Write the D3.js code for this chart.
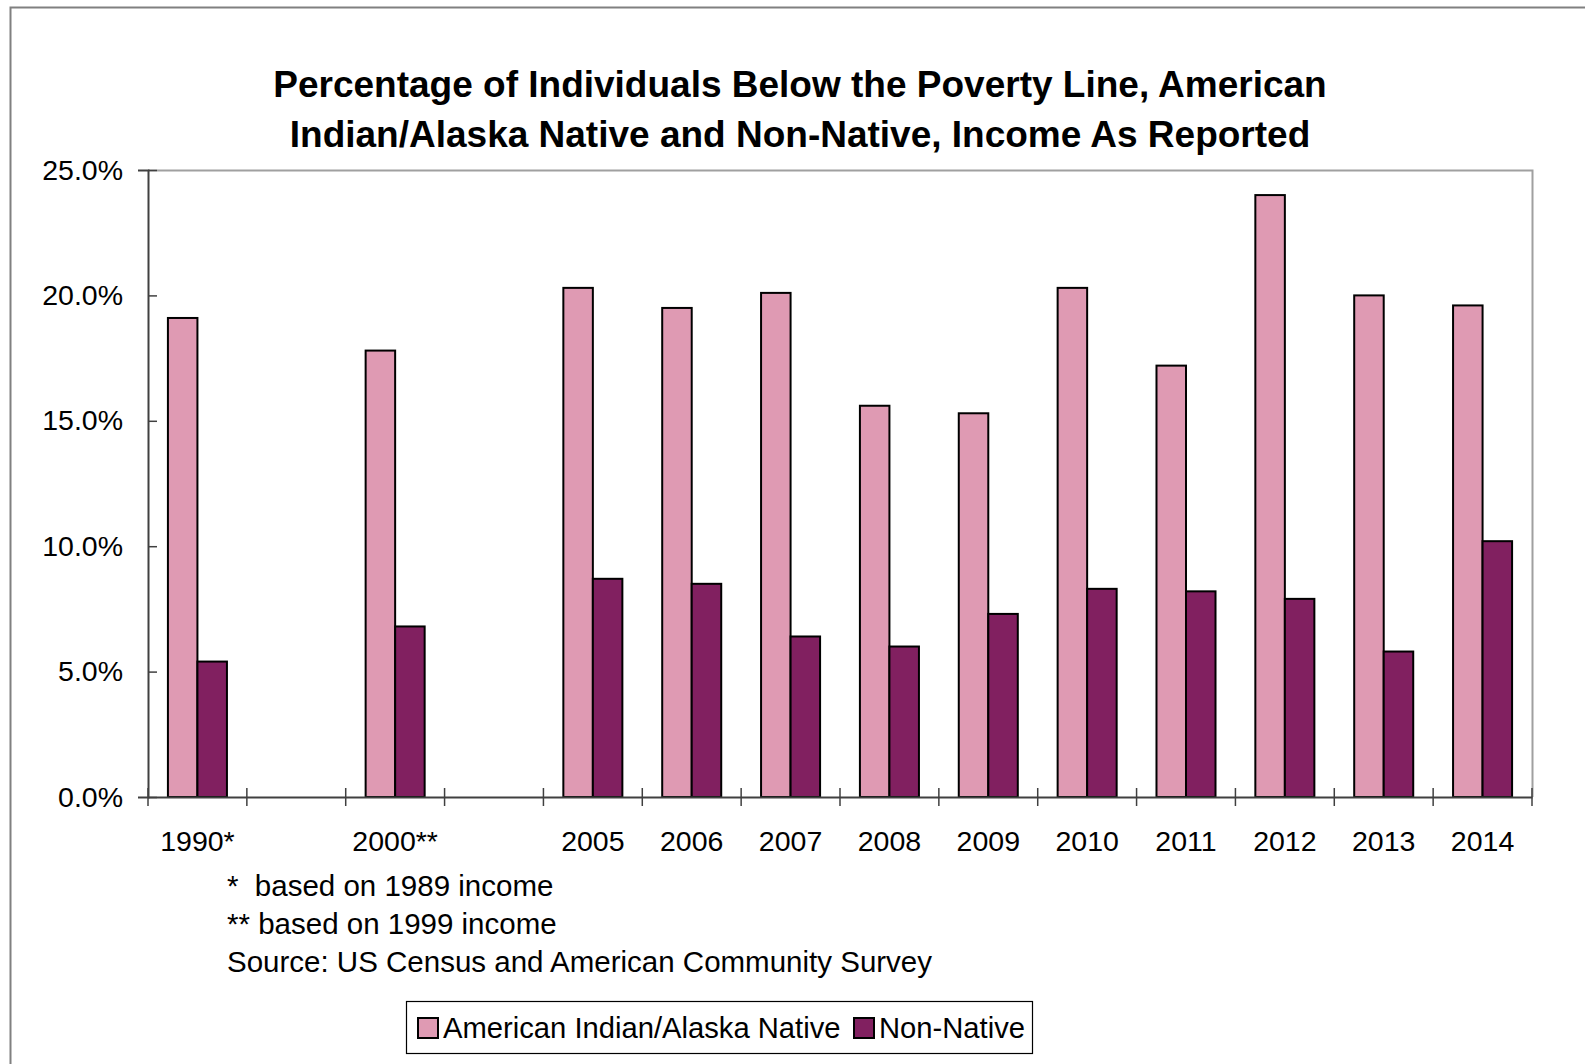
<!doctype html>
<html lang="en">
<head>
  <meta charset="utf-8">
  <title>Poverty Line Chart</title>
  <style>
    body { margin: 0; background: #fff; }
    svg { display: block; font-family: "Liberation Sans", Arial, sans-serif; }
    .title { font-weight: bold; font-size: 37px; fill: #000; }
    .tick text { font-size: 28.5px; fill: #000; }
    .note { font-size: 29.5px; fill: #000; }
    .legend-text { font-size: 29.2px; fill: #000; }
    .bar { stroke: #000; stroke-width: 2; }
  </style>
</head>
<body>
  <div id="chart"></div>

  <script src="https://d3js.org/d3.v7.min.js"></script>
  <script>
    // categories (blank slots are the empty gaps after 1990 and 2000)
    const categories = ["1990*", "", "2000**", "", "2005", "2006", "2007", "2008", "2009", "2010", "2011", "2012", "2013", "2014"];
    const seriesNames = ["American Indian/Alaska Native", "Non-Native"];
    const nativeValues = [19.1, null, 17.8, null, 20.3, 19.5, 20.1, 15.6, 15.3, 20.3, 17.2, 24.0, 20.0, 19.6];
    const nonNativeValues = [5.4, null, 6.8, null, 8.7, 8.5, 6.4, 6.0, 7.3, 8.3, 8.2, 7.9, 5.8, 10.2];
    const yTicks = [0, 5, 10, 15, 20, 25];
    const titleLines = [
      "Percentage of Individuals Below the Poverty Line, American",
      "Indian/Alaska Native and Non-Native, Income As Reported"
    ];
    const notes = ["*  based on 1989 income", "** based on 1999 income", "Source: US Census and American Community Survey"];
    const colors = ["#df9ab3", "#812060"];

    const width = 1585, height = 1064;
    const plot = { left: 148, right: 1532, top: 170, bottom: 797 };

    const svg = d3.select('#chart').append('svg')
      .attr('width', width)
      .attr('height', height);

    // outer chart border (runs off the right and bottom edges)
    svg.append('rect')
      .attr('x', 10.5).attr('y', 7.5)
      .attr('width', width).attr('height', height)
      .attr('fill', 'none')
      .attr('stroke', '#808080')
      .attr('stroke-width', 2);

    svg.selectAll('.title')
      .data(titleLines)
      .join('text')
      .attr('class', 'title')
      .attr('x', 800)
      .attr('y', (d, i) => 97 + i * 50)
      .attr('text-anchor', 'middle')
      .text(d => d);

    const x = d3.scaleBand()
      .domain(d3.range(categories.length))
      .range([plot.left, plot.right])
      .paddingInner(0)
      .paddingOuter(0);

    const xInner = d3.scaleBand()
      .domain([0, 1])
      .range([0, x.bandwidth()])
      .paddingInner(0)
      .paddingOuter(0.675);

    const y = d3.scaleLinear()
      .domain([0, 25])
      .range([plot.bottom, plot.top]);

    // plot area frame (top and right in light gray)
    svg.append('path')
      .attr('d', `M${plot.left},${plot.top + 0.5}H${plot.right + 0.5}V${plot.bottom}`)
      .attr('fill', 'none')
      .attr('stroke', '#a0a0a0')
      .attr('stroke-width', 2);

    const rows = categories.map((c, i) => ({ i, values: [nativeValues[i], nonNativeValues[i]] }));

    const groups = svg.append('g')
      .selectAll('g')
      .data(rows)
      .join('g')
      .attr('transform', d => `translate(${x(d.i)},0)`);

    groups.selectAll('rect')
      .data(d => d.values.map((v, s) => ({ v, s })).filter(e => e.v != null))
      .join('rect')
      .attr('class', 'bar')
      .attr('x', d => xInner(d.s))
      .attr('width', xInner.bandwidth())
      .attr('y', d => y(d.v))
      .attr('height', d => y(0) - y(d.v))
      .attr('fill', d => colors[d.s]);

    // y axis
    const yAxis = svg.append('g')
      .attr('transform', `translate(${plot.left},0)`)
      .call(d3.axisLeft(y).tickValues(yTicks).tickFormat(d => d.toFixed(1) + '%').tickSizeOuter(0).tickSize(10).tickPadding(15));
    yAxis.select('.domain').attr('stroke', '#404040').attr('stroke-width', 2);
    yAxis.selectAll('.tick line').attr('stroke', '#404040').attr('stroke-width', 1.5).attr('x2', 9);

    // x axis: labels at category centres, ticks at category boundaries
    const xAxis = svg.append('g')
      .attr('transform', `translate(0,${plot.bottom})`)
      .call(d3.axisBottom(x).tickFormat(i => categories[i]).tickSize(0).tickPadding(34).tickSizeOuter(0));
    xAxis.select('.domain').attr('stroke', '#404040').attr('stroke-width', 2);

    const edges = d3.range(categories.length + 1).map(i => i < categories.length ? x(i) : x.range()[1]);
    svg.append('g')
      .selectAll('line')
      .data(edges)
      .join('line')
      .attr('x1', d => d).attr('x2', d => d)
      .attr('y1', plot.bottom - 9).attr('y2', plot.bottom + 9)
      .attr('stroke', '#404040')
      .attr('stroke-width', 1.5);

    // footnotes
    svg.selectAll('.note')
      .data(notes)
      .join('text')
      .attr('class', 'note')
      .attr('x', 227)
      .attr('y', (d, i) => 896 + i * 38)
      .attr('xml:space', 'preserve')
      .style('white-space', 'pre')
      .text(d => d);

    // legend
    const legend = svg.append('g');
    legend.append('rect')
      .attr('x', 406.5).attr('y', 1001.5)
      .attr('width', 626).attr('height', 52)
      .attr('fill', '#fff')
      .attr('stroke', '#000')
      .attr('stroke-width', 1.2);

    const legendX = [418, 854];
    const items = legend.selectAll('.item')
      .data(seriesNames)
      .join('g')
      .attr('class', 'item')
      .attr('transform', (d, i) => `translate(${legendX[i]},1018)`);
    items.append('rect')
      .attr('width', 20).attr('height', 20)
      .attr('fill', (d, i) => colors[i])
      .attr('stroke', '#000')
      .attr('stroke-width', 2);
    items.append('text')
      .attr('class', 'legend-text')
      .attr('x', 25)
      .attr('y', 20)
      .text(d => d);
  </script>
</body>
</html>
